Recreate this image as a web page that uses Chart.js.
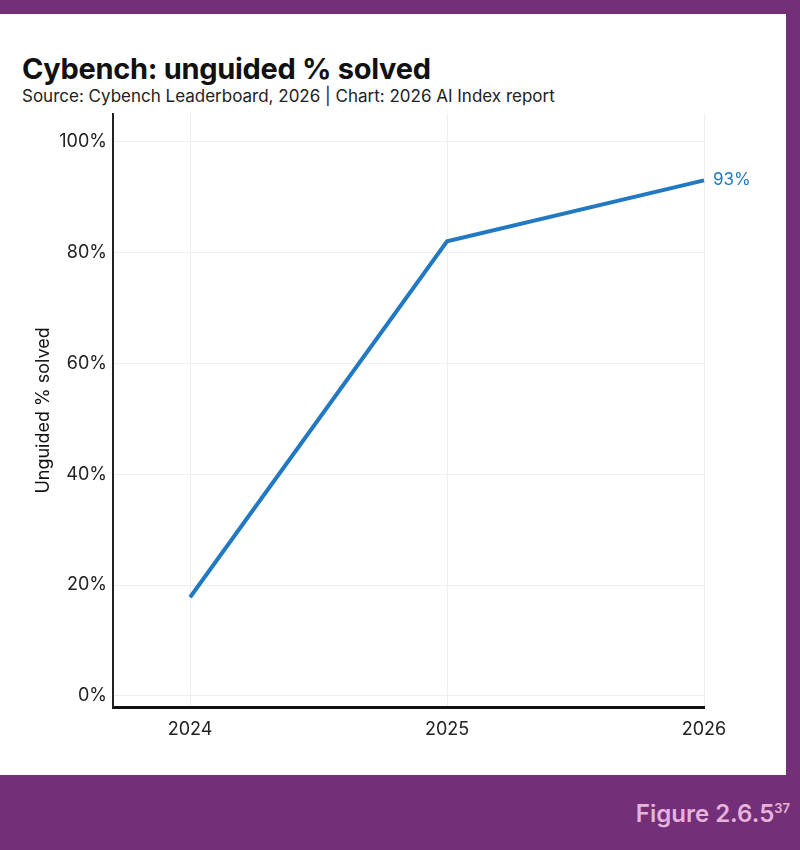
<!DOCTYPE html>
<html>
<head>
<meta charset="utf-8">
<script src="https://cdn.jsdelivr.net/npm/chart.js@4"></script>
<style>
  body { margin: 0; width: 800px; height: 850px; background: #742f79; position: relative; overflow: hidden; font-family: Inter, Roboto, sans-serif; }
  .panel { position: absolute; left: 0; top: 14px; width: 786px; height: 761px; background: #fff; }
  .title { position: absolute; left: 22px; top: 51px; font-size: 29px; font-weight: 700; color: #111; letter-spacing: -0.3px; }
  .subtitle { position: absolute; left: 22px; top: 86px; font-size: 17px; color: #222; }
  .chart-box { position: absolute; left: 0; top: 97px; width: 786px; height: 650px; }
  .fig { position: absolute; right: 10px; top: 799px; font-size: 24px; font-weight: 600; color: #e6b3da; }
  .fig sup { font-size: 13px; }
</style>
</head>
<body>
<div class="panel"></div>
<div class="title">Cybench: unguided % solved</div>
<div class="subtitle">Source: Cybench Leaderboard, 2026 | Chart: 2026 AI Index report</div>
<div class="chart-box"><canvas id="cyChart"></canvas></div>
<div class="fig">Figure 2.6.5<sup>37</sup></div>

<script>
const years = [2024, 2025, 2026];
const solved = [17.8, 82, 93];
const yTicks = [0, 20, 40, 60, 80, 100];

const lineColor = "#2279c3";

/* label next to last point */
const endLabel = {
  id: "endLabel",
  afterDatasetsDraw(chart) {
    const { ctx, scales } = chart;
    const i = years.length - 1;
    const x = scales.x.getPixelForValue(years[i]) + 9;
    const y = scales.y.getPixelForValue(solved[i]);
    ctx.save();
    ctx.font = "17px Inter, sans-serif";
    ctx.fillStyle = lineColor;
    ctx.textAlign = "left";
    ctx.textBaseline = "middle";
    ctx.fillText(solved[i] + "%", x, y);
    ctx.restore();
  }
};

new Chart(document.getElementById("cyChart"), {
  type: "line",
  data: {
    datasets: [{
      data: years.map((yr, i) => ({ x: yr, y: solved[i] })),
      borderColor: lineColor,
      borderWidth: 4,
      pointRadius: 0,
      tension: 0,
      clip: false
    }]
  },
  options: {
    responsive: true,
    maintainAspectRatio: false,
    animation: false,
    layout: { padding: { top: 7, right: 82, left: 0, bottom: 0 } },
    plugins: {
      legend: { display: false },
      tooltip: { enabled: false }
    },
    scales: {
      x: {
        type: "linear",
        min: 2023.7,
        max: 2026,
        afterBuildTicks: (s) => { s.ticks = years.map(v => ({ value: v })); },
        afterFit: (s) => { s.height = 40; },
        grid: { color: "#eeeeee", drawTicks: false },
        border: { color: "#111", width: 3 },
        ticks: {
          padding: 12,
          color: "#222",
          font: { size: 18, family: "Inter" },
          callback: (v) => String(v)
        }
      },
      y: {
        min: -2,
        max: 105,
        afterBuildTicks: (s) => { s.ticks = yTicks.map(v => ({ value: v })); },
        afterFit: (s) => { s.width = 113; },
        grid: { color: "#eeeeee", drawTicks: false },
        border: { color: "#222", width: 2 },
        ticks: {
          padding: 6,
          color: "#222",
          font: { size: 18, family: "Inter" },
          callback: (v) => v + "%"
        },
        title: {
          display: true,
          text: "Unguided % solved",
          color: "#111",
          font: { size: 18, family: "Inter" },
          padding: { top: 33, bottom: 0 }
        }
      }
    }
  },
  plugins: [endLabel]
});
</script>
</body>
</html>
